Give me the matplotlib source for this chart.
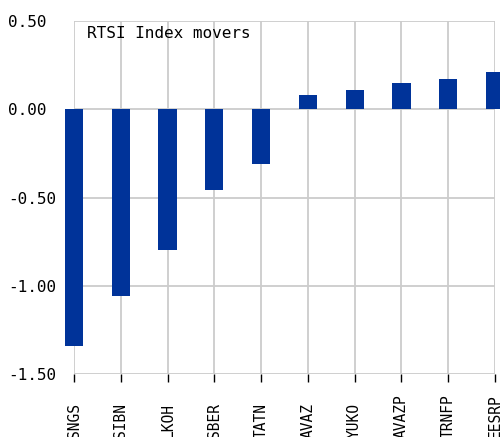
import matplotlib
matplotlib.use("Agg")
import matplotlib.pyplot as plt

categories = ["SNGS", "SIBN", "LKOH", "SBER", "TATN", "AVAZ", "YUKO", "AVAZP", "TRNFP", "EESRP"]
values = [-1.34, -1.06, -0.80, -0.46, -0.31, 0.08, 0.11, 0.15, 0.17, 0.21]
yticks = [-1.5, -1.0, -0.5, 0.0, 0.5]
ytick_labels = ["-1.50", "-1.00", "-0.50", "0.00", "0.50"]
title = "RTSI Index movers"

mono = "DejaVu Sans Mono"
fig = plt.figure(figsize=(5.0, 4.37), dpi=100)
ax = fig.add_axes([74/500, 1-374/437, 421/500, 353/437])

x = list(range(len(categories)))
ax.bar(x, values, width=0.39, color="#003399", zorder=3, clip_on=False)

ax.set_xlim(0, len(categories) - 1)
ax.set_ylim(-1.5, 0.5)
ax.set_yticks(yticks)
ax.set_yticklabels(ytick_labels, fontfamily=mono, fontsize=11.5, ha="left")
ax.tick_params(axis="y", length=0, pad=47.5)

ax.set_xticks(x)
ax.set_xticklabels(categories, rotation=90, rotation_mode="anchor", ha="left", va="center",
                   fontfamily=mono, fontsize=10.5)
ax.tick_params(axis="x", length=6, width=1, color="black", direction="out", pad=40)

ax.grid(True, color="#cccccc", linewidth=1.3, zorder=0)
ax.set_axisbelow(True)
for s in ax.spines.values():
    s.set_visible(False)

ax.text(0.031, 0.966, title, transform=ax.transAxes, fontfamily=mono, fontsize=11.5,
        ha="left", va="center", color="black")

fig.savefig("out.png", dpi=100)
